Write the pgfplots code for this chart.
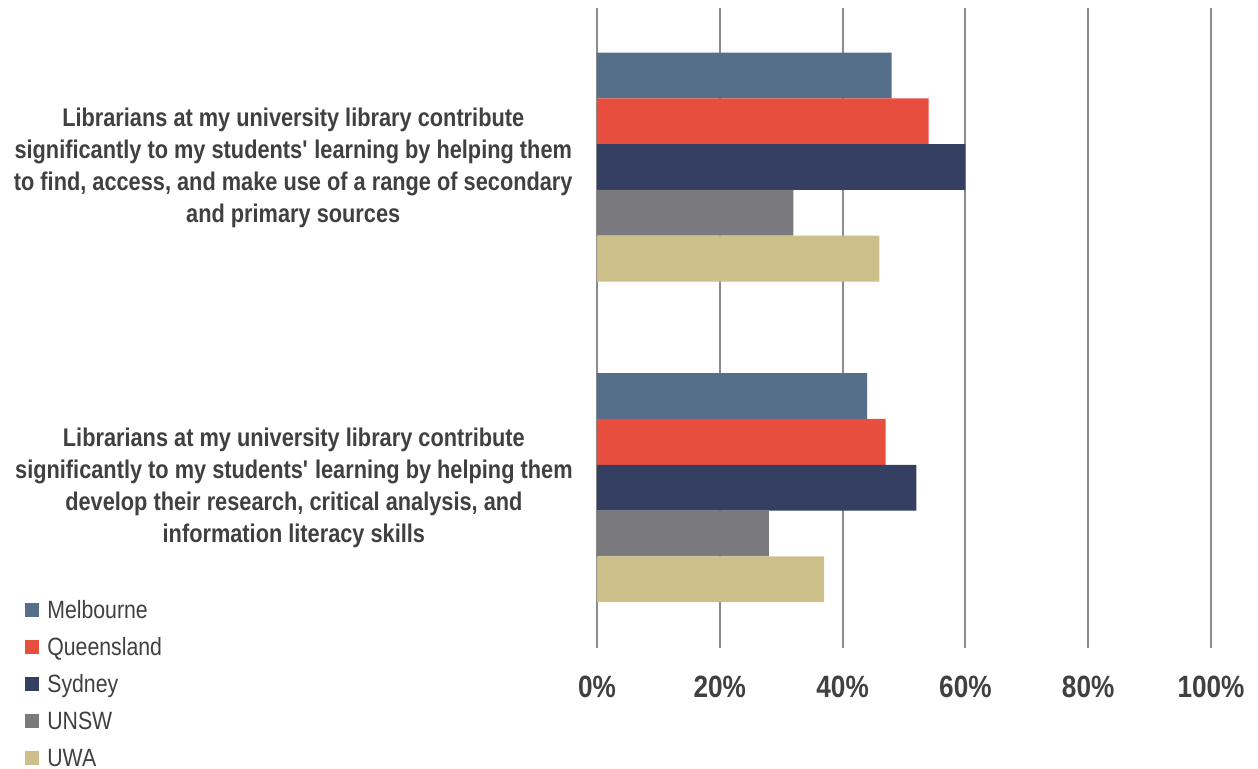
\documentclass[border=0pt]{standalone}
\usepackage{fontspec}
\setmainfont{Liberation Sans}[FakeStretch=0.85]
\usepackage{pgfplots}
\pgfplotsset{compat=1.18}
\definecolor{cMel}{HTML}{556F8A}
\definecolor{cQld}{HTML}{E84E3D}
\definecolor{cSyd}{HTML}{343F62}
\definecolor{cUNSW}{HTML}{7A7A7E}
\definecolor{cUWA}{HTML}{CCBF8A}
\definecolor{gridc}{HTML}{8C8C8C}
\definecolor{txt}{HTML}{404040}
\begin{document}
\begin{tikzpicture}
\useasboundingbox (-298.5pt,-60pt) rectangle (330.5pt,324pt);
\begin{axis}[
  scale only axis, width=307pt, height=320pt,
  xmin=0, xmax=100, ymin=0, ymax=2,
  xbar, bar width=22.9pt,
  xtick={0,20,40,60,80,100},
  xticklabels={0\%,20\%,40\%,60\%,80\%,100\%},
  ytick={0.5,1.5},
  yticklabels={{Librarians at my university library contribute\\significantly to my students\textquotesingle{} learning by helping them\\develop their research, critical analysis, and\\information literacy skills},
               {Librarians at my university library contribute\\significantly to my students\textquotesingle{} learning by helping them\\to find, access, and make use of a range of secondary\\and primary sources}},
  xmajorgrids, ymajorgrids=false,
  major grid style={color=gridc, line width=1pt},
  axis line style={draw=none},
  major tick length=0pt,
  xticklabel style={inner sep=0pt, yshift=-14pt, font=\bfseries\fontsize{15.4}{18}\selectfont, text=txt},
  yticklabel style={inner sep=0pt, xshift=-12pt, align=center, font=\bfseries\fontsize{12.8}{16}\selectfont, text=txt},
  legend image code/.code={\fill[#1] (0pt,-3.5pt) rectangle (7pt,3.5pt);},
  legend style={at={(axis description cs:-0.9316,0.0750)}, anchor=north west,
    draw=none, fill=none, inner sep=0pt, row sep=8.5pt, column sep=4pt,
    font=\fontsize{12.5}{15}\selectfont, text=txt,
    nodes={inner sep=0pt, text height=9pt, text depth=1pt}},
  legend cell align=left,
]
\addplot[fill=cMel, draw=none, bar shift=45.8pt] coordinates {(48,1.503) (44,0.501)};
\addplot[fill=cQld, draw=none, bar shift=22.9pt] coordinates {(54,1.503) (47,0.501)};
\addplot[fill=cSyd, draw=none, bar shift=0pt] coordinates {(60,1.503) (52,0.501)};
\addplot[fill=cUNSW, draw=none, bar shift=-22.9pt] coordinates {(32,1.503) (28,0.501)};
\addplot[fill=cUWA, draw=none, bar shift=-45.8pt] coordinates {(46,1.503) (37,0.501)};
\legend{Melbourne,Queensland,Sydney,UNSW,UWA}
\end{axis}
\end{tikzpicture}
\end{document}
